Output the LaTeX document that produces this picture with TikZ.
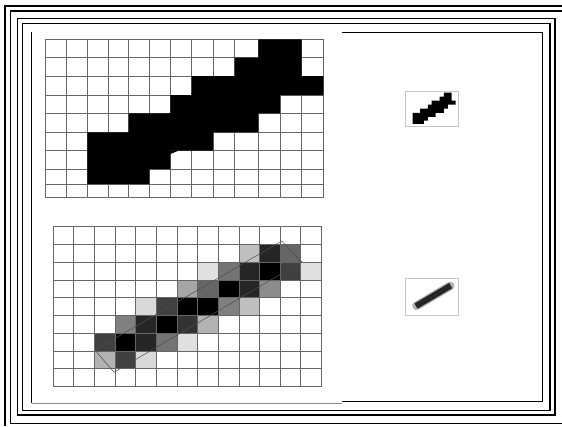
\documentclass[tikz,border=0pt]{standalone}
\usepackage{tikz}

\tikzset{
  gridline/.style={draw=black!60,line width=0.9pt},
  framerule/.style={draw=black,line width=1.4pt},
  thumbbox/.style={draw=black!22,line width=0.6pt}
}
% outline of the black cells of the upper grid
\newcommand{\stairpath}{(258.3,39.3) -- (301.7,39.3) -- (301.7,76.0) -- (323.3,76.0) -- (323.3,95.0) -- (280.0,95.0) -- (280.0,113.3) -- (258.3,113.3) -- (258.3,132.3) -- (213.0,132.3) -- (213.0,150.7) -- (170.3,150.7) -- (170.3,169.0) -- (149.3,169.0) -- (149.3,184.0) -- (87.3,184.0) -- (87.3,132.3) -- (128.7,132.3) -- (128.7,113.3) -- (170.3,113.3) -- (170.3,95.0) -- (191.7,95.0) -- (191.7,76.0) -- (234.7,76.0) -- (234.7,57.7) -- (258.3,57.7) -- cycle}

\begin{document}
\begin{tikzpicture}[x=1pt,y=-1pt]
\useasboundingbox (0,0) rectangle (562,426);
% nested frames
\draw[line width=2.6pt] (5.0,426) -- (5.0,5.8) -- (562,5.8);
\draw[line width=1.2pt] (562,423.3) -- (10.8,423.3) -- (10.8,11.0) -- (562,11.0);
\draw[framerule] (17.5,18.5) rectangle (555.0,415.0);
\draw[framerule] (22.7,23.3) rectangle (550.0,410.7);
\draw[framerule] (31.7,31.7) -- (31.7,403.0);
\draw[draw=black!45,line width=0.8pt] (31.7,403.0) -- (342.0,403.0);
\draw[framerule] (342.0,32.3) -- (542.7,32.3) -- (542.7,401.7) -- (342.0,401.7);

% upper grid
\foreach \xx in {45.0,66.0,87.3,108.0,128.7,149.3,170.3,191.7,213.0,234.7,258.3,280.0,301.7,323.3}
  \draw[gridline] (\xx,39.3) -- (\xx,197.5);
\foreach \yy in {39.3,57.7,76.0,95.0,113.3,132.3,150.7,169.0,184.0,197.5}
  \draw[gridline] (45.0,\yy) -- (323.3,\yy);
\fill[black] \stairpath;
\fill[black] (170.3,150.7) -- (178.5,150.7) -- (170.3,154.0) -- cycle;

% lower grid
\begin{scope}[shift={(53.2,226.7)},x=20.64pt,y=-17.75pt]
  \foreach \c/\r/\g in {9/1/25,10/1/85,11/1/60,
      7/2/12,8/2/55,9/2/85,10/2/100,11/2/75,12/2/12,
      6/3/35,7/3/60,8/3/100,9/3/85,10/3/45,
      4/4/15,5/4/75,6/4/100,7/4/100,8/4/50,9/4/25,
      3/5/50,4/5/85,5/5/100,6/5/80,7/5/30,
      2/6/75,3/6/100,4/6/85,5/6/55,6/6/12,
      2/7/30,3/7/75,4/7/15}
    \fill[black!\g] (\c,\r) rectangle ++(1,1);
  \foreach \i in {0,...,13}
    \draw[gridline] (\i,0) -- (\i,9);
  \foreach \j in {0,...,9}
    \draw[gridline] (0,\j) -- (13,\j);
  \draw[draw=black!70,line width=0.5pt] (2.025,6.95) -- (2.946,8.20) -- (12.04,1.97) -- (11.07,0.806) -- cycle;
\end{scope}

% small previews
\draw[thumbbox] (405.0,91.7) rectangle (458.3,126.7);
\begin{scope}[shift={(396.8,84.2)},xscale=0.182,yscale=0.216]
  \fill[black] \stairpath;
\end{scope}
\draw[thumbbox] (405.0,278.3) rectangle (458.3,315.0);
\draw[black!30,line width=8.5pt,line cap=round] (416.5,305.8) -- (450.2,285.9);
\draw[black!85,line width=6pt] (416.0,306.1) -- (450.7,285.6);
\end{tikzpicture}
\end{document}
